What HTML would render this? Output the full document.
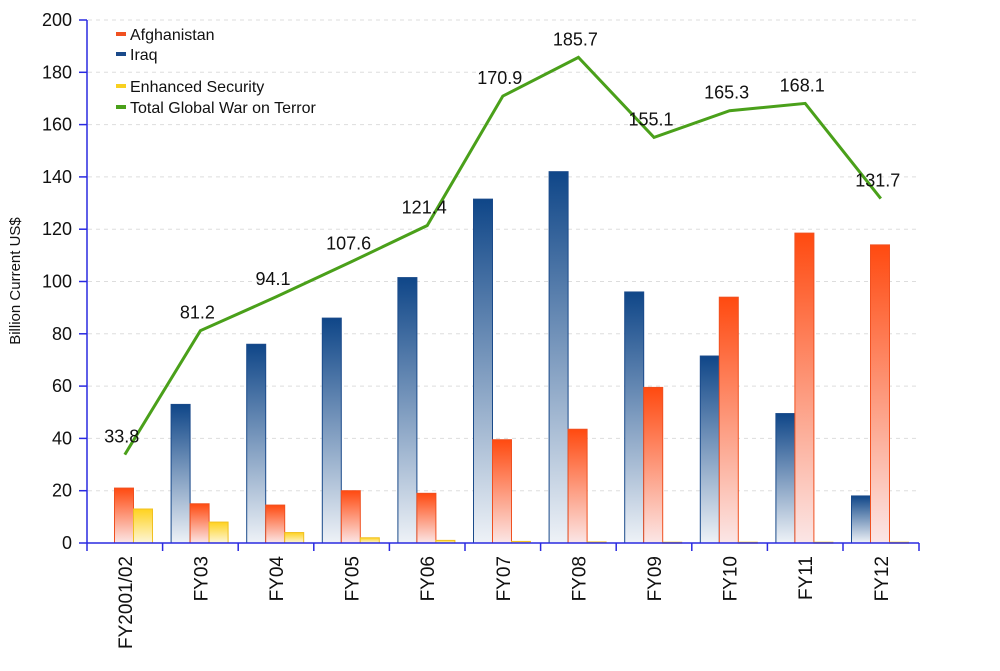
<!DOCTYPE html>
<html><head><meta charset="utf-8"><style>
html,body{margin:0;padding:0;background:#fff;}
svg{display:block;font-family:"Liberation Sans",Arial,sans-serif;}
</style></head><body>
<svg width="1000" height="671" viewBox="0 0 1000 671" xmlns="http://www.w3.org/2000/svg">
<defs>
<linearGradient id="gi" x1="0" y1="0" x2="0" y2="1"><stop offset="0" stop-color="#0f4688"/><stop offset="1" stop-color="#eef2f7"/></linearGradient>
<linearGradient id="ga" x1="0" y1="0" x2="0" y2="1"><stop offset="0" stop-color="#ff4a10"/><stop offset="1" stop-color="#fbe6e6"/></linearGradient>
<linearGradient id="ge" x1="0" y1="0" x2="0" y2="1"><stop offset="0" stop-color="#ffd21e"/><stop offset="1" stop-color="#fdf6d8"/></linearGradient>
</defs>
<g id="grid" stroke="#ddd" stroke-dasharray="4,4" stroke-width="1"></g>
<g id="bars"></g>
<line x1="87" y1="20" x2="87" y2="543" stroke="#2a2ae0" stroke-width="1.5"/>
<line x1="87" y1="543" x2="919" y2="543" stroke="#2a2ae0" stroke-width="1.5"/>
<g id="ax" font-size="18" fill="#111"></g>
<text transform="translate(20,281) rotate(-90)" text-anchor="middle" font-size="15" fill="#111">Billion Current US$</text>
<polyline id="line" fill="none" stroke="#4aa01a" stroke-width="3"/>
<g id="lbl" font-size="18" fill="#111" text-anchor="middle"></g>
<g font-size="16" fill="#111">
<rect x="116" y="32" width="10" height="4" fill="#f05020"/><text x="130" y="40">Afghanistan</text>
<rect x="116" y="52" width="10" height="4" fill="#1a4a8a"/><text x="130" y="60">Iraq</text>
<rect x="116" y="84" width="10" height="4" fill="#f8d020"/><text x="130" y="92">Enhanced Security</text>
<rect x="116" y="105" width="10" height="4" fill="#4aa01a"/><text x="130" y="113">Total Global War on Terror</text>
</g>
</svg>
<script>
const NS="http://www.w3.org/2000/svg";
function el(p,t,a,txt){const e=document.createElementNS(NS,t);for(const k in a)e.setAttribute(k,a[k]);if(txt!==undefined)e.textContent=txt;document.getElementById(p).appendChild(e);return e;}
const y0=543,k=2.615;const Y=v=>y0-v*k;
for(let v=0;v<=200;v+=20){if(v>0)el("grid","line",{x1:88,x2:919,y1:Y(v),y2:Y(v)});
el("ax","line",{x1:79,x2:87,y1:Y(v),y2:Y(v),stroke:"#2a2ae0","stroke-width":1.5});
el("ax","text",{x:72,y:Y(v)+6,"text-anchor":"end"},v);}
const cats=["FY2001/02","FY03","FY04","FY05","FY06","FY07","FY08","FY09","FY10","FY11","FY12"];
const iraq=[0,53,76,86,101.5,131.5,142,96,71.5,49.5,18];
const afg=[21,15,14.5,20,19,39.5,43.5,59.5,94,118.5,114];
const enh=[13,8,4,2,1,0.6,0.4,0.3,0.3,0.3,0.3];
const tot=[33.8,81.2,94.1,107.6,121.4,170.9,185.7,155.1,165.3,168.1,131.7];
const w=75.6;let pts=[];
for(let i=0;i<11;i++){const b=87+w*i,c=b+w/2;
el("ax","line",{x1:b,x2:b,y1:543,y2:551,stroke:"#2a2ae0","stroke-width":1.5});
if(iraq[i])el("bars","rect",{x:b+8.5,y:Y(iraq[i]),width:19,height:iraq[i]*k,fill:"url(#gi)",stroke:"#1a4a8a","stroke-width":1});
el("bars","rect",{x:b+27.5,y:Y(afg[i]),width:19,height:afg[i]*k,fill:"url(#ga)",stroke:"#f05020","stroke-width":1});
el("bars","rect",{x:b+46.5,y:Y(enh[i]),width:19,height:Math.max(enh[i]*k,1),fill:"url(#ge)",stroke:"#f0c020","stroke-width":1});
el("ax","text",{transform:`translate(${c+7},556) rotate(-90)`,"text-anchor":"end","font-size":19},cats[i]);
pts.push(c+","+Y(tot[i]));
el("lbl","text",{x:c-3,y:Y(tot[i])-12},tot[i].toFixed(1));}
document.getElementById("line").setAttribute("points",pts.join(" "));
el("ax","line",{x1:919,x2:919,y1:543,y2:551,stroke:"#2a2ae0","stroke-width":1.5});
</script>
</body></html>
